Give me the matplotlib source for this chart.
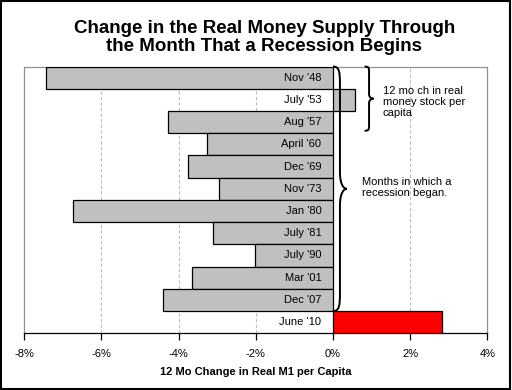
import matplotlib.pyplot as plt
from matplotlib.path import Path
from matplotlib.patches import PathPatch, Rectangle

plt.rcParams['font.family'] = ['Liberation Sans', 'DejaVu Sans']

# recession start months and the 12 month change in real M1 per capita (%)
months = ["Nov '48", "July '53", "Aug '57", "April '60", "Dec '69", "Nov '73",
          "Jan '80", "July '81", "July '90", "Mar '01", "Dec '07", "June '10"]
change = [-7.43, 0.58, -4.27, -3.26, -3.75, -2.95,
          -6.75, -3.11, -2.02, -3.65, -4.40, 2.82]
colors = ['#C0C0C0'] * 11 + ['#FF0000']
xticks = [-8, -6, -4, -2, 0, 2, 4]
xticklabels = ['-8%', '-6%', '-4%', '-2%', '0%', '2%', '4%']


def brace(ax, x0, y0, y1, w, lw=1.4):
    # curly brace pointing right, from y0 (top) to y1 (bottom)
    ym = (y0 + y1) / 2
    h = w / 2
    d = (y1 - y0) * 0.07
    verts = [(x0, y0),
             (x0 + h * 0.9, y0), (x0 + h, y0 + d * 0.3), (x0 + h, y0 + d),
             (x0 + h, ym - d),
             (x0 + h, ym - d * 0.2), (x0 + w * 0.8, ym), (x0 + w, ym),
             (x0 + w * 0.8, ym), (x0 + h, ym + d * 0.2), (x0 + h, ym + d),
             (x0 + h, y1 - d),
             (x0 + h, y1 - d * 0.3), (x0 + h * 0.9, y1), (x0, y1)]
    codes = [Path.MOVETO,
             Path.CURVE4, Path.CURVE4, Path.CURVE4,
             Path.LINETO,
             Path.CURVE4, Path.CURVE4, Path.CURVE4,
             Path.CURVE4, Path.CURVE4, Path.CURVE4,
             Path.LINETO,
             Path.CURVE4, Path.CURVE4, Path.CURVE4]
    ax.add_patch(PathPatch(Path(verts, codes), fill=False, lw=lw,
                           edgecolor='black', clip_on=False, zorder=5))


fig = plt.figure(figsize=(5.12, 3.9), dpi=100)
fig.patches.append(Rectangle((0.002, 0.003), 0.995, 0.994, transform=fig.transFigure,
                             fill=False, edgecolor='black', lw=1.5))
ax = fig.add_axes([0.0475, 0.1454, 0.9043, 0.684])

y = range(len(months))
ax.barh(y, change, height=1.0, color=colors, edgecolor='black', lw=0.9, zorder=3)
ax.set_ylim(len(months) - 0.5, -0.5)
ax.set_xlim(-8, 4)

for i, lab in enumerate(months):
    ax.text(-0.3, i, lab, ha='right', va='center', fontsize=8, zorder=4)

for g in [-6, -4, -2, 2]:
    ax.axvline(g, color='#BDBDBD', lw=0.8, ls=(0, (3, 2)), zorder=1)

ax.set_xticks(xticks)
ax.set_xticklabels(xticklabels, fontsize=8)
ax.set_yticks([])
ax.tick_params(axis='x', direction='out', length=5, width=0.9, pad=6)
for s in ['left', 'top', 'right']:
    ax.spines[s].set_color('#909090')
    ax.spines[s].set_linewidth(0.9)
ax.spines['bottom'].set_linewidth(0.9)
ax.set_xlabel('12 Mo Change in Real M1 per Capita', fontsize=8,
              fontweight='bold', labelpad=6)

brace(ax, 0.0, -0.5, 10.5, 0.36)
brace(ax, 0.82, -0.5, 2.39, 0.23)
ax.text(1.29, 1.09, '12 mo ch in real\nmoney stock per\ncapita', fontsize=8,
        ha='left', va='center', linespacing=1.15)
ax.text(0.74, 4.95, 'Months in which a\nrecession began.', fontsize=8,
        ha='left', va='center', linespacing=1.1)

fig.text(0.516, 0.904, 'Change in the Real Money Supply Through\nthe Month That a Recession Begins',
         ha='center', va='center', fontsize=13.5, fontweight='bold', linespacing=1.1)

fig.savefig('out.png', dpi=100)
